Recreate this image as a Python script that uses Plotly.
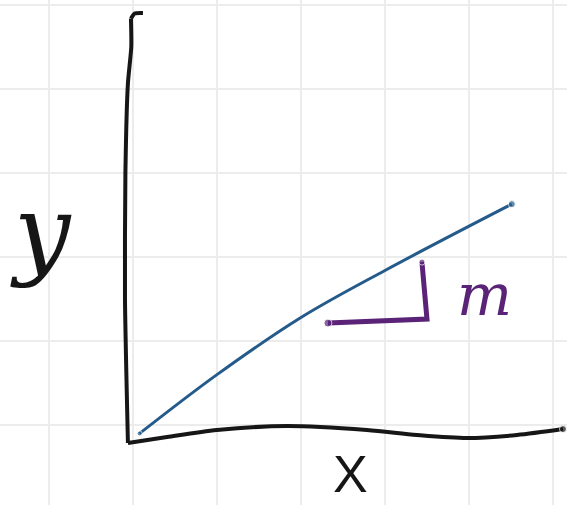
import plotly.graph_objects as go

# Sketch of a straight-ish line y(x) on graph paper, in grid units
# (one grid square = 1 unit, origin at a grid crossing near the axes corner).

# hand-drawn x axis
x_axis_u = [-0.06, 0.405, 1.0, 1.833, 2.786, 3.381, 3.976, 4.571, 5.119]
x_axis_v = [-0.214, -0.143, -0.06, -0.012, -0.06, -0.119, -0.155, -0.119, -0.048]

# hand-drawn y axis
y_axis_u = [-0.06, -0.095, -0.09, -0.06, -0.02, -0.024]
y_axis_v = [-0.214, 1.5, 3.0, 4.07, 4.5, 4.84]

# little hook at the top of the y axis
hook_u = [-0.024, 0.02, 0.119]
hook_v = [4.84, 4.9, 4.905]

# the curve y(x)
curve_x = [0.08, 1.0, 2.0, 3.0, 4.51]
curve_y = [-0.10, 0.60, 1.28, 1.84, 2.63]

# slope triangle (run then rise)
slope_x = [2.321, 3.50, 3.44]
slope_y = [1.214, 1.262, 1.94]

# labels
label_text = ["y", "X", "m"]
label_x = [-1.1, 2.595, 4.19]
label_y = [2.3, -0.58, 1.55]

BLACK = "#161616"
BLUE = "#245b8b"
PURPLE = "#5a2378"

fig = go.Figure()

fig.add_trace(go.Scatter(
    x=x_axis_u, y=x_axis_v, mode="lines+markers",
    line=dict(color=BLACK, width=4, shape="spline", smoothing=0.8),
    marker=dict(size=[0] * (len(x_axis_u) - 1) + [7], color=BLACK),
    hoverinfo="skip", showlegend=False,
))
fig.add_trace(go.Scatter(
    x=y_axis_u, y=y_axis_v, mode="lines",
    line=dict(color=BLACK, width=4, shape="spline", smoothing=0.6),
    hoverinfo="skip", showlegend=False,
))
fig.add_trace(go.Scatter(
    x=hook_u, y=hook_v, mode="lines",
    line=dict(color=BLACK, width=4, shape="spline", smoothing=0.5),
    hoverinfo="skip", showlegend=False,
))
fig.add_trace(go.Scatter(
    x=curve_x, y=curve_y, mode="lines+markers",
    line=dict(color=BLUE, width=3, shape="spline", smoothing=1.0),
    marker=dict(size=[5] + [0] * (len(curve_x) - 2) + [7], color=BLUE),
    hoverinfo="skip", showlegend=False,
))
fig.add_trace(go.Scatter(
    x=slope_x, y=slope_y, mode="lines+markers",
    line=dict(color=PURPLE, width=5),
    marker=dict(size=[8, 0, 6], color=PURPLE),
    hoverinfo="skip", showlegend=False,
))

label_style = [
    dict(family="DejaVu Serif", size=100, color=BLACK, style="italic"),
    dict(family="Liberation Sans", size=52, color=BLACK),
    dict(family="DejaVu Serif", size=58, color=PURPLE, style="italic"),
]
for t, lx, ly, f in zip(label_text, label_x, label_y, label_style):
    fig.add_annotation(x=lx, y=ly, text=t, showarrow=False, font=f,
                       xanchor="center", yanchor="middle")

fig.update_layout(
    width=567, height=505,
    margin=dict(l=0, r=0, t=0, b=0),
    paper_bgcolor="white", plot_bgcolor="white",
    xaxis=dict(range=[-1.583, 5.167], dtick=1, tick0=0, showticklabels=False,
               showgrid=True, gridcolor="#ececec", gridwidth=2,
               zeroline=False, showline=False, fixedrange=True),
    yaxis=dict(range=[-0.952, 5.06], dtick=1, tick0=0, showticklabels=False,
               showgrid=True, gridcolor="#ececec", gridwidth=2,
               zeroline=False, showline=False, fixedrange=True),
)

fig.write_html("out.html")
